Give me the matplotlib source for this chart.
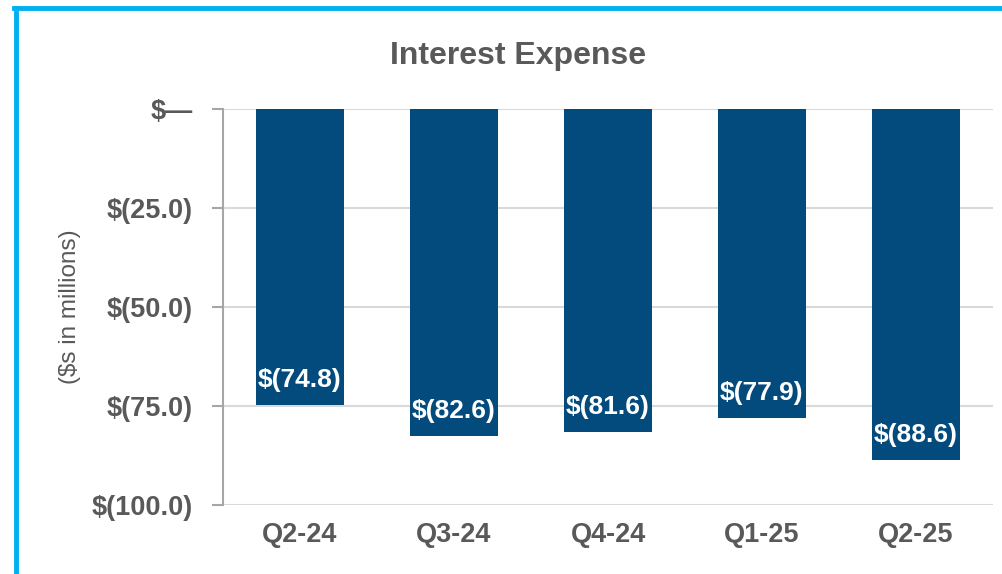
import matplotlib.pyplot as plt
from matplotlib.lines import Line2D

# Data
quarters = ["Q2-24", "Q3-24", "Q4-24", "Q1-25", "Q2-25"]
interest_expense = [-74.8, -82.6, -81.6, -77.9, -88.6]
y_ticks = [0, -25, -50, -75, -100]
y_tick_labels = ["$\u2014", "$(25.0)", "$(50.0)", "$(75.0)", "$(100.0)"]

BAR_COLOR = "#034A7D"
TEXT_GRAY = "#595959"
BORDER_BLUE = "#00B0F0"

plt.rcParams["font.family"] = ["Liberation Sans", "DejaVu Sans"]

fig = plt.figure(figsize=(10.02, 5.74), dpi=100)
ax = fig.add_axes([0.2226, 0.1202, 0.7684, 0.6898])

x = range(len(quarters))
bars = ax.bar(x, interest_expense, width=0.57, color=BAR_COLOR, zorder=3)

# value labels inside the bar ends
for xi, val in zip(x, interest_expense):
    ax.text(xi, val + 6.3, f"$({abs(val):.1f})", ha="center", va="center",
            color="white", fontsize=19, fontweight="bold", zorder=4)

ax.set_xlim(-0.5, len(quarters) - 0.5)
ax.set_ylim(-100, 0)
ax.set_yticks(y_ticks)
ax.set_yticklabels(y_tick_labels)
ax.set_xticks(list(x))
ax.set_xticklabels(quarters)

ax.grid(axis="y", color="#D9D9D9", linewidth=1.5, zorder=0)
ax.set_axisbelow(True)
for side in ["top", "right", "bottom"]:
    ax.spines[side].set_visible(False)
ax.spines["left"].set_color("#A6A6A6")
ax.spines["left"].set_linewidth(1.5)

ax.tick_params(axis="y", colors="#A6A6A6", length=8, width=1.5, pad=14,
               labelcolor=TEXT_GRAY, labelsize=19.5)
ax.tick_params(axis="x", length=0, pad=12, labelcolor=TEXT_GRAY, labelsize=19.5)
for lbl in ax.get_yticklabels() + ax.get_xticklabels():
    lbl.set_fontweight("bold")

ax.set_ylabel("($s in millions)", fontsize=17.5, color=TEXT_GRAY)
ax.yaxis.set_label_coords(-0.184, 0.5)

fig.text(0.517, 0.902, "Interest Expense", ha="center", va="center",
         fontsize=23, fontweight="bold", color=TEXT_GRAY)

# light blue frame around the chart (top and left edges visible)
fig.add_artist(Line2D([16 / 1002, 16 / 1002], [0, 1 - 7.5 / 574],
                      transform=fig.transFigure, color=BORDER_BLUE, linewidth=3.5))
fig.add_artist(Line2D([14 / 1002, 1], [1 - 7.5 / 574, 1 - 7.5 / 574],
                      transform=fig.transFigure, color=BORDER_BLUE, linewidth=3.5))

fig.savefig("out.png", dpi=100)
